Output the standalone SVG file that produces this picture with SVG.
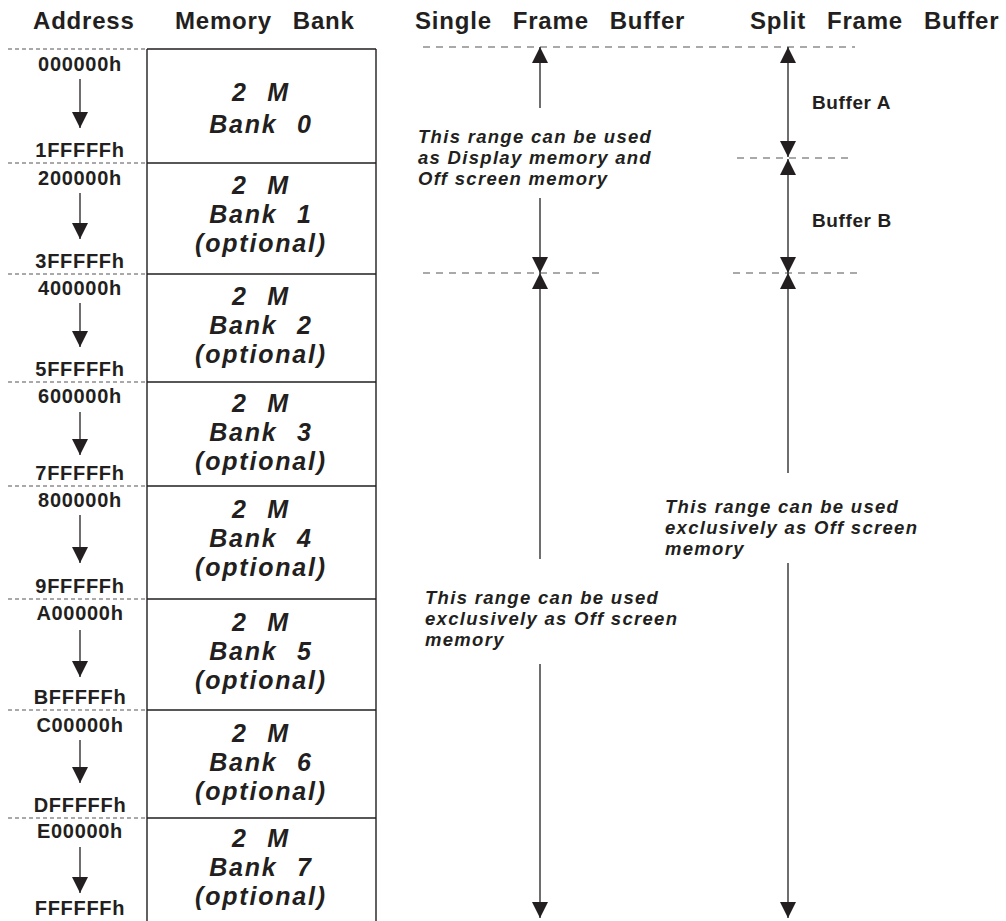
<svg xmlns="http://www.w3.org/2000/svg" width="1006" height="921" viewBox="0 0 1006 921" xml:space="preserve">
<style>
text{font-family:"Liberation Sans",Arial,sans-serif;font-weight:bold;fill:#231f20;white-space:pre}
.hd{font-size:24px;letter-spacing:0.8px;word-spacing:3px}
.ad{font-size:20px;letter-spacing:0.7px;text-anchor:middle}
.bk{font-size:25px;font-style:italic;letter-spacing:1.8px;word-spacing:1px;text-anchor:middle}
.rg{font-size:18.5px;font-style:italic;letter-spacing:1.3px}
.bf{font-size:19px;letter-spacing:0.6px}
.ln{stroke:#231f20;stroke-width:1.4;fill:none}
.ds{stroke:#555;stroke-width:1.2;fill:none;stroke-dasharray:7 6}
.dl{stroke:#555;stroke-width:1.2;fill:none;stroke-dasharray:4 3}
.ar{stroke:#231f20;stroke-width:1.3;fill:none;marker-end:url(#ah)}
.ar2{stroke:#231f20;stroke-width:1.3;fill:none;marker-start:url(#ah);marker-end:url(#ah)}
</style>
<defs>
<marker id="ah" viewBox="0 0 16 16" refX="16" refY="8" markerWidth="16" markerHeight="16" markerUnits="userSpaceOnUse" orient="auto-start-reverse">
<path d="M0,0 L16,8 L0,16 z" fill="#231f20"/>
</marker>
</defs>
<rect width="1006" height="921" fill="#fff"/>
<g id="headers">
<text class="hd" x="33" y="29">Address</text>
<text class="hd" x="175" y="29">Memory  Bank</text>
<text class="hd" x="415" y="29">Single  Frame  Buffer</text>
<text class="hd" x="750" y="29">Split  Frame  Buffer</text>
</g>
<g id="table">
<path class="ln" d="M147,49 V921 M376,49 V921 M147,49 H376 M147,163 H376 M147,274 H376 M147,382 H376 M147,486 H376 M147,599 H376 M147,710 H376 M147,818 H376"/>
<path class="dl" d="M8,49 H147 M8,163 H147 M8,274 H147 M8,382 H147 M8,486 H147 M8,599 H147 M8,710 H147 M8,818 H147"/>
</g>
<g id="bank0"><text class="ad" x="80" y="71">000000h</text><text class="ad" x="80" y="157">1FFFFFh</text><text class="bk" x="261" y="101">2  M</text><text class="bk" x="261" y="133">Bank  0</text></g>
<g id="bank1"><text class="ad" x="80" y="185">200000h</text><text class="ad" x="80" y="268">3FFFFFh</text><text class="bk" x="261" y="194">2  M</text><text class="bk" x="261" y="223">Bank  1</text><text class="bk" x="261" y="252">(optional)</text></g>
<g id="bank2"><text class="ad" x="80" y="295">400000h</text><text class="ad" x="80" y="376">5FFFFFh</text><text class="bk" x="261" y="305">2  M</text><text class="bk" x="261" y="334">Bank  2</text><text class="bk" x="261" y="363">(optional)</text></g>
<g id="bank3"><text class="ad" x="80" y="403">600000h</text><text class="ad" x="80" y="480">7FFFFFh</text><text class="bk" x="261" y="412">2  M</text><text class="bk" x="261" y="441">Bank  3</text><text class="bk" x="261" y="470">(optional)</text></g>
<g id="bank4"><text class="ad" x="80" y="507">800000h</text><text class="ad" x="80" y="593">9FFFFFh</text><text class="bk" x="261" y="518">2  M</text><text class="bk" x="261" y="547">Bank  4</text><text class="bk" x="261" y="576">(optional)</text></g>
<g id="bank5"><text class="ad" x="80" y="620">A00000h</text><text class="ad" x="80" y="704">BFFFFFh</text><text class="bk" x="261" y="631">2  M</text><text class="bk" x="261" y="660">Bank  5</text><text class="bk" x="261" y="689">(optional)</text></g>
<g id="bank6"><text class="ad" x="80" y="732">C00000h</text><text class="ad" x="80" y="812">DFFFFFh</text><text class="bk" x="261" y="742">2  M</text><text class="bk" x="261" y="771">Bank  6</text><text class="bk" x="261" y="800">(optional)</text></g>
<g id="bank7"><text class="ad" x="80" y="838">E00000h</text><text class="ad" x="80" y="915">FFFFFFh</text><text class="bk" x="261" y="847">2  M</text><text class="bk" x="261" y="876">Bank  7</text><text class="bk" x="261" y="905">(optional)</text></g>
<g id="single-labels">
<text class="rg" x="418" y="143">This range can be used</text>
<text class="rg" x="418" y="164">as Display memory and</text>
<text class="rg" x="418" y="185">Off screen memory</text>
<text class="rg" x="425" y="604">This range can be used</text>
<text class="rg" x="425" y="625">exclusively as Off screen</text>
<text class="rg" x="425" y="646">memory</text>
</g>
<g id="split-labels">
<text class="bf" x="812" y="109">Buffer A</text>
<text class="bf" x="812" y="227">Buffer B</text>
<text class="rg" x="665" y="513">This range can be used</text>
<text class="rg" x="665" y="534">exclusively as Off screen</text>
<text class="rg" x="665" y="555">memory</text>
</g>
<g id="boundaries">
<path class="ds" d="M423,47 H855 M737,158 H852 M423,273 H600 M733,273 H857"/>
</g>
<g id="connectors">
<path class="ar" d="M80,79 V128"/>
<path class="ar" d="M80,193 V239"/>
<path class="ar" d="M80,303 V347"/>
<path class="ar" d="M80,412 V455"/>
<path class="ar" d="M80,515 V563"/>
<path class="ar" d="M80,630 V677"/>
<path class="ar" d="M80,740 V783"/>
<path class="ar" d="M80,847 V893"/>
<path class="ar" d="M540,108 V47"/>
<path class="ar" d="M540,198 V273"/>
<path class="ar" d="M540,559 V273"/>
<path class="ar" d="M540,664 V918"/>
<path class="ar2" d="M788,47 V157"/>
<path class="ar2" d="M788,159 V273"/>
<path class="ar" d="M788,473 V273"/>
<path class="ar" d="M788,563 V918"/>
</g>
</svg>
